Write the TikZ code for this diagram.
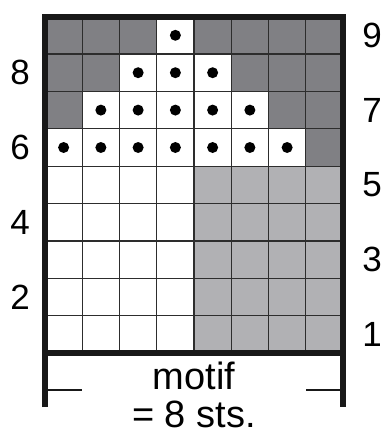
\documentclass[tikz,border=0pt]{standalone}
\usepackage{fontspec}
\setmainfont{Liberation Sans}
\definecolor{darkcell}{RGB}{128,128,132}
\definecolor{lightcell}{RGB}{177,177,180}
\definecolor{gridline}{RGB}{45,45,45}
\definecolor{framecol}{RGB}{25,25,25}
\begin{document}
\begin{tikzpicture}[x=1pt,y=-1pt,
  rowlabel/.style={inner sep=0pt,font=\fontsize{35}{38}\selectfont},
  motiftext/.style={inner sep=0pt,font=\fontsize{38}{41}\selectfont,anchor=base},
  thinline/.style={gridline,line width=1.2pt},
  frameline/.style={framecol,line width=6.5pt},
  bracket/.style={framecol,line width=1.6pt}]
\useasboundingbox (0,0) rectangle (385,436);
\def\cw{37.25}
\def\ch{37.4}
% light cells
\foreach \r in {1,...,5}{
  \foreach \c in {5,...,8}{
    \fill[lightcell] ({45+(\c-1)*\cw},{16.6+(9-\r)*\ch}) rectangle ++(\cw,\ch);
  }
}
% dark cells
\foreach \r/\c in {6/8, 7/1, 7/7, 7/8, 8/1, 8/2, 8/6, 8/7, 8/8,
                   9/1, 9/2, 9/3, 9/5, 9/6, 9/7, 9/8}{
  \fill[darkcell] ({45+(\c-1)*\cw},{16.6+(9-\r)*\ch}) rectangle ++(\cw,\ch);
}
% grid lines
\foreach \i in {1,...,7}{
  \draw[thinline] ({45+\i*\cw},16.6) -- ({45+\i*\cw},353.2);
}
\foreach \j in {1,...,8}{
  \draw[thinline] (45,{16.6+\j*\ch}) -- (343,{16.6+\j*\ch});
}
% dots
\foreach \r/\c in {6/1,6/2,6/3,6/4,6/5,6/6,6/7,
                   7/2,7/3,7/4,7/5,7/6,
                   8/3,8/4,8/5,
                   9/4}{
  \fill[black] ({45+(\c-0.5)*\cw},{16.6+(9-\r+0.5)*\ch}) circle (5.5pt);
}
% frame
\coordinate (bl) at (45,407);
\coordinate (tl) at (45,17);
\coordinate (tr) at (343,17);
\coordinate (br) at (343,407);
\coordinate (ml) at (45,353);
\coordinate (mr) at (343,353);
\draw[frameline,line join=miter] (bl) -- (tl) -- (tr) -- (br);
\draw[frameline] (ml) -- (mr);
% bracket ticks
\coordinate (bl1) at (47,390);
\coordinate (bl2) at (82,390);
\coordinate (br1) at (306,390);
\coordinate (br2) at (341,390);
\draw[bracket] (bl1) -- (bl2);
\draw[bracket] (br1) -- (br2);
% row labels
\node[rowlabel] (l8) at (20,{16.6+1.5*\ch}) {8};
\node[rowlabel] (l6) at (20,{16.6+3.5*\ch}) {6};
\node[rowlabel] (l4) at (20,{16.6+5.5*\ch}) {4};
\node[rowlabel] (l2) at (20,{16.6+7.5*\ch}) {2};
\node[rowlabel] (r9) at (372,{16.6+0.5*\ch}) {9};
\node[rowlabel] (r7) at (372,{16.6+2.5*\ch}) {7};
\node[rowlabel] (r5) at (372,{16.6+4.5*\ch}) {5};
\node[rowlabel] (r3) at (372,{16.6+6.5*\ch}) {3};
\node[rowlabel] (r1) at (372,{16.6+8.5*\ch}) {1};
% caption
\node[motiftext] (motif) at (194,389) {motif};
\node[motiftext] (sts) at (194,427) {= 8 sts.};
\end{tikzpicture}
\end{document}
